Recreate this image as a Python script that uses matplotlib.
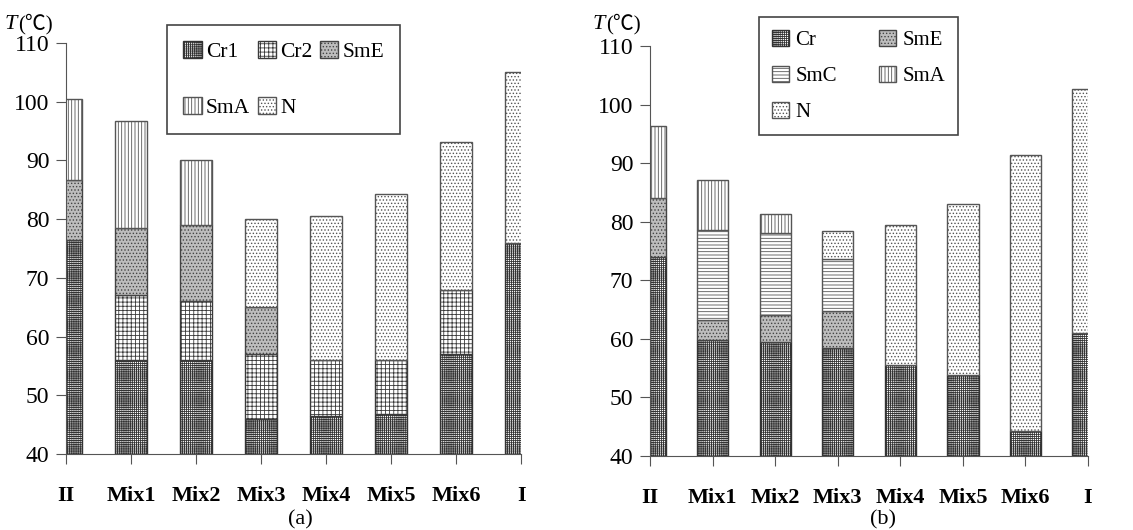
#stacked phase-range bars for two mixture series
import numpy as np
import matplotlib.pyplot as plt

plt.rcParams['font.family'] = ['Liberation Serif', 'Noto Sans CJK SC', 'DejaVu Sans']
plt.rcParams['hatch.linewidth'] = 0.6

nan = np.nan
cats = ['II', 'Mix1', 'Mix2', 'Mix3', 'Mix4', 'Mix5', 'Mix6', 'I']

#(a) upper transition temperature of each phase
cr1_a = [76.5, 56, 56, 46, 46.5, 46.8, 57, 76]
cr2_a = [nan, 67, 66, 57, 56, 56, 68, nan]
sme_a = [86.6, 78.5, 79, 65, nan, nan, nan, nan]
sma_a = [100.4, 96.7, 90, nan, nan, nan, nan, nan]
n_a = [nan, nan, nan, 80, 80.5, 84.2, 93.2, 105]

#(b)
cr_b = [74, 59.8, 59.5, 58.5, 55.5, 53.8, 44.3, 61]
sme_b = [84, 63.2, 64, 64.8, nan, nan, nan, nan]
smc_b = [nan, 78.6, 78, 73.6, nan, nan, nan, nan]
sma_b = [96.4, 87.2, 81.3, nan, nan, nan, nan, nan]
n_b = [nan, nan, nan, 78.5, 79.5, 83, 91.4, 102.7]

#hatch, face, edge(=hatch colour)
STYLE = {'Cr1': ('++++++++', 'white', '#333333'),
         'Cr': ('++++++++', 'white', '#333333'),
         'Cr2': ('++++', 'white', '#3a3a3a'),
         'SmE': ('.....', '#bdbdbd', '#444444'),
         'SmA': ('|||||', 'white', '#555555'),
         'SmC': ('-----', 'white', '#555555'),
         'N': ('.....', 'white', '#555555')}


def draw(ax, phases, legend_order, ncol, bbox, lfs, lspace, cspace, bpad, tpad):
    x = np.arange(len(cats))
    prev = np.zeros(len(cats))
    handles = {}
    for name, tops in phases:
        tops = np.array(tops, dtype=float)
        ok = ~np.isnan(tops)
        h, fc, ec = STYLE[name]
        b = ax.bar(x[ok], tops[ok] - prev[ok], 0.5, bottom=prev[ok], color=fc,
                   edgecolor=ec, hatch=h, linewidth=1.0, label=name)
        handles[name] = b
        prev[ok] = tops[ok]
    ax.set_xlim(0, 7)
    ax.set_ylim(40, 110)
    ax.set_yticks(range(40, 111, 10))
    ax.set_xticks(x)
    ax.set_xticklabels(cats, fontweight='bold', fontsize=16)
    ax.tick_params(axis='y', labelsize=17, direction='out', length=7, color='#555', pad=5)
    ax.tick_params(axis='x', direction='out', length=7, color='#555', pad=16)
    for s in ['top', 'right']:
        ax.spines[s].set_visible(False)
    for s in ['left', 'bottom']:
        ax.spines[s].set_color('#555')
    leg = ax.legend([handles[k] for k in legend_order], legend_order, ncol=ncol,
                    loc='upper left', bbox_to_anchor=bbox, fontsize=lfs,
                    fancybox=False, edgecolor='#444', framealpha=1,
                    handlelength=0.85, handleheight=0.85, handletextpad=tpad,
                    columnspacing=cspace, labelspacing=lspace, borderpad=bpad,
                    borderaxespad=0)
    leg.get_frame().set_linewidth(1.2)
    return leg


fig = plt.figure(figsize=(11.33, 5.3), dpi=100)
ax1 = fig.add_axes([0.0583, 0.1434, 0.4017, 0.7755])
ax2 = fig.add_axes([0.5737, 0.1396, 0.3866, 0.7734])

draw(ax1, [('Cr1', cr1_a), ('Cr2', cr2_a), ('SmE', sme_a), ('SmA', sma_a), ('N', n_a)],
     ['Cr1', 'SmA', 'Cr2', 'N', 'SmE'], 3, (0.222, 1.044), 15.5, 1.6, 0.35, 0.75, 0.2)
draw(ax2, [('Cr', cr_b), ('SmE', sme_b), ('SmC', smc_b), ('SmA', sma_b), ('N', n_b)],
     ['Cr', 'SmC', 'N', 'SmE', 'SmA'], 2, (0.249, 1.071), 15, 0.75, 2.0, 0.6, 0.3)

fig.text(0.004, 0.945, 'T', fontsize=16, style='italic')
fig.text(0.016, 0.945, '(℃)', fontsize=15)
fig.text(0.523, 0.945, 'T', fontsize=16, style='italic')
fig.text(0.535, 0.945, '(℃)', fontsize=15)
fig.text(0.265, 0.01, '(a)', fontsize=16, ha='center')
fig.text(0.779, 0.01, '(b)', fontsize=16, ha='center')

fig.savefig('out.png', dpi=100)
